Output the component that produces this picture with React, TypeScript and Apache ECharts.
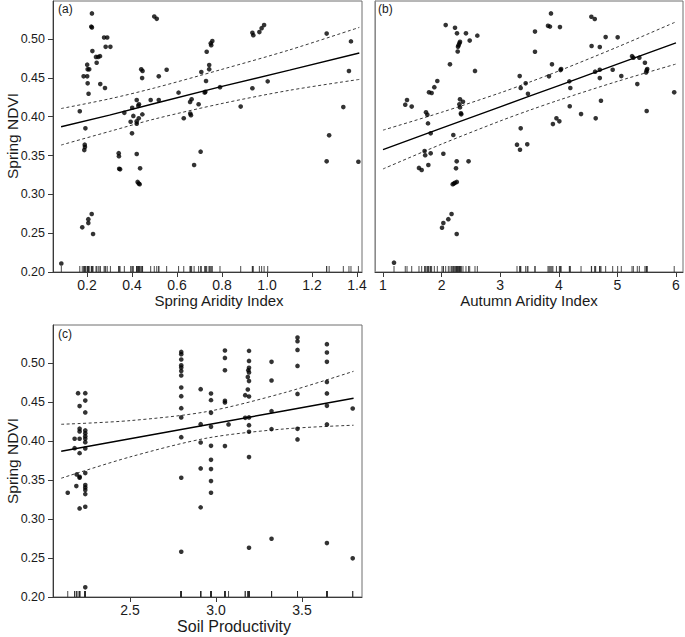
import React, { useEffect, useRef } from "react";
import * as echarts from "echarts";

// ---------- Panel (a): Spring Aridity Index vs Spring NDVI ----------
const springAridity = [
  0.222, 0.219, 0.222, 0.224, 0.276, 0.29, 0.283, 0.304, 0.24, 0.25,
  0.258, 0.243, 0.201, 0.203, 0.21, 0.185, 0.201, 0.203, 0.259, 0.28,
  0.207, 0.168, 0.193, 0.19, 0.191, 0.188, 0.499, 0.51, 0.441, 0.447,
  0.445, 0.554, 0.519, 0.607, 0.421, 0.483, 0.519, 0.431, 0.428, 0.401,
  0.366, 0.406, 0.446, 0.43, 0.394, 0.421, 0.421, 0.4, 0.421, 0.935,
  0.939, 0.966, 0.976, 0.987, 0.757, 0.75, 0.752, 0.732, 1.265, 1.373,
  0.743, 0.743, 0.708, 0.729, 1.003, 0.791, 0.935, 1.364, 0.723, 0.726,
  0.665, 0.658, 0.696, 0.883, 0.63, 0.659, 0.662, 1.339, 1.276, 0.705,
  0.341, 0.342, 0.343, 0.347, 0.436, 0.425, 0.43, 0.434, 0.676, 0.179,
  0.206, 0.206, 0.221, 0.227, 0.086, 1.265, 1.406,
];
const ndviA = [
  0.533, 0.516, 0.515, 0.4845, 0.502, 0.502, 0.49, 0.49, 0.477, 0.477,
  0.478, 0.4695, 0.467, 0.461, 0.461, 0.452, 0.452, 0.443, 0.442, 0.437,
  0.4296, 0.407, 0.385, 0.364, 0.361, 0.357, 0.529, 0.526, 0.461, 0.459,
  0.4497, 0.4605, 0.452, 0.431, 0.4215, 0.4215, 0.4215, 0.416, 0.414, 0.4115,
  0.405, 0.401, 0.403, 0.398, 0.3935, 0.394, 0.391, 0.3786, 0.352, 0.508,
  0.505, 0.509, 0.514, 0.518, 0.4975, 0.4945, 0.492, 0.4836, 0.507, 0.497,
  0.4665, 0.461, 0.4575, 0.446, 0.4455, 0.438, 0.4366, 0.4588, 0.431, 0.432,
  0.4225, 0.419, 0.416, 0.413, 0.398, 0.404, 0.402, 0.4124, 0.376, 0.355,
  0.353, 0.349, 0.333, 0.3322, 0.3335, 0.316, 0.314, 0.313, 0.3378, 0.2575,
  0.263, 0.268, 0.2747, 0.249, 0.211, 0.3425, 0.342,
];
const fitAX = [0.085, 0.3, 0.5, 0.8, 1.1, 1.41];
const fitAY = [0.387, 0.402, 0.417, 0.439, 0.46, 0.482];
const upperAY = [0.4105, 0.423, 0.437, 0.461, 0.486, 0.515];
const lowerAY = [0.3635, 0.381, 0.397, 0.417, 0.434, 0.448];

// ---------- Panel (b): Autumn Aridity Index vs Spring NDVI ----------
const autumnAridity = [
  2.07, 2.229, 2.263, 2.416, 2.61, 2.48, 2.314, 2.304, 2.29, 2.28,
  2.275, 2.143, 2.57, 1.927, 1.876, 1.785, 1.83, 1.41, 1.38, 1.49,
  2.314, 2.365, 2.304, 2.314, 2.33, 2.335, 1.734, 1.757, 1.768, 1.814,
  2.2, 3.333, 3.435, 3.474, 3.35, 3.35, 3.287, 3.338, 3.462, 1.71,
  1.72, 1.814, 2.03, 1.614, 1.66, 1.774, 2.258, 2.46, 2.246, 2.19,
  2.21, 2.23, 2.26, 2.17, 2.115, 2.03, 2.007, 2.258, 1.188, 3.867,
  3.816, 3.85, 4.02, 3.594, 4.556, 4.614, 4.8, 5.005, 4.56, 4.7,
  3.594, 3.884, 4.04, 4.03, 4.92, 4.62, 4.7, 5.25, 5.273, 5.375,
  5.47, 5.51, 5.5, 5.49, 3.833, 4.7, 5.067, 4.18, 4.197, 5.34,
  4.72, 4.187, 4.38, 4.63, 3.96, 4.01, 3.9, 5.5, 5.97,
];
const ndviB = [
  0.518, 0.5145, 0.5074, 0.5074, 0.5044, 0.498, 0.4965, 0.4945, 0.492, 0.49,
  0.484, 0.4674, 0.459, 0.446, 0.438, 0.4314, 0.4305, 0.4215, 0.4155, 0.413,
  0.4224, 0.4193, 0.416, 0.412, 0.4045, 0.403, 0.4056, 0.4025, 0.3914, 0.3786,
  0.3764, 0.4523, 0.443, 0.4296, 0.437, 0.385, 0.364, 0.3575, 0.3644, 0.3558,
  0.3503, 0.3528, 0.3523, 0.334, 0.3313, 0.3378, 0.3425, 0.3425, 0.3335, 0.313,
  0.314, 0.315, 0.316, 0.2747, 0.268, 0.263, 0.257, 0.249, 0.212, 0.533,
  0.517, 0.516, 0.5154, 0.5096, 0.5287, 0.5258, 0.5025, 0.5022, 0.491, 0.4897,
  0.4836, 0.4674, 0.4614, 0.46, 0.4604, 0.458, 0.4605, 0.478, 0.476, 0.476,
  0.4695, 0.4614, 0.4597, 0.457, 0.452, 0.4497, 0.4523, 0.4455, 0.437, 0.442,
  0.4206, 0.4134, 0.4034, 0.3979, 0.3979, 0.394, 0.3905, 0.4073, 0.4314,
];
const fitBX = [1, 2, 3, 3.5, 4, 5, 6];
const fitBY = [0.3577, 0.3852, 0.4126, 0.4264, 0.4401, 0.4676, 0.495];
const upperBY = [0.3827, 0.4057, 0.4307, 0.4445, 0.4589, 0.4897, 0.5222];
const lowerBY = [0.3327, 0.3647, 0.3945, 0.4083, 0.4213, 0.4455, 0.4678];

// ---------- Panel (c): Soil Productivity vs Spring NDVI ----------
const soilProductivity = [
  2.198,
  2.24, 2.24, 2.24, 2.24, 2.24, 2.24, 2.24, 2.24, 2.24, 2.24, 2.24, 2.24, 2.24, 2.24, 2.24, 2.24,
  2.207, 2.207, 2.207, 2.207, 2.207, 2.207, 2.207, 2.207,
  2.178, 2.178, 2.19, 2.188, 2.138,
  2.798, 2.798, 2.798, 2.798, 2.798, 2.798, 2.798, 2.798, 2.798, 2.798, 2.798, 2.798, 2.798, 2.798,
  2.911, 2.911, 2.911, 2.911, 2.911,
  2.971, 2.971, 2.971, 2.971, 2.971, 2.971, 2.971, 2.971, 2.971,
  3.052, 3.052, 3.052, 3.052, 3.052, 3.052, 3.073,
  3.192, 3.192, 3.192, 3.188, 3.192, 3.185, 3.192, 3.185, 3.17, 3.192, 3.17, 3.192, 3.192, 3.192, 3.192, 3.192,
  3.323, 3.323, 3.323, 3.323, 3.323,
  3.474, 3.474, 3.474, 3.474, 3.474, 3.474, 3.474,
  3.645, 3.645, 3.645, 3.645, 3.645, 3.645, 3.645, 3.645,
  3.795, 3.795,
];
const ndviC = [
  0.4615,
  0.4615, 0.452, 0.4368, 0.4137, 0.41, 0.4064, 0.403, 0.3987, 0.3906, 0.359, 0.3436, 0.3406, 0.3372, 0.332, 0.3158, 0.2124,
  0.445, 0.416, 0.4124, 0.403, 0.3846, 0.3542, 0.353, 0.3137,
  0.403, 0.391, 0.3573, 0.3423, 0.3337,
  0.5145, 0.5115, 0.5047, 0.4974, 0.4945, 0.4901, 0.4842, 0.4688, 0.4577, 0.4423, 0.4304, 0.4051, 0.353, 0.258,
  0.4667, 0.4218, 0.3983, 0.365, 0.315,
  0.4611, 0.4526, 0.4363, 0.4183, 0.394, 0.376, 0.3641, 0.3487, 0.3337,
  0.5163, 0.5068, 0.491, 0.4517, 0.4496, 0.3936, 0.4214,
  0.5158, 0.5029, 0.494, 0.491, 0.488, 0.4824, 0.477, 0.4663, 0.459, 0.4573, 0.4299, 0.4304, 0.4205, 0.412, 0.3795, 0.2632,
  0.5017, 0.4778, 0.4385, 0.4154, 0.2747,
  0.533, 0.5282, 0.517, 0.4965, 0.4606, 0.4158, 0.4022,
  0.5244, 0.5137, 0.5017, 0.476, 0.4612, 0.4453, 0.4214, 0.2692,
  0.4419, 0.2496,
];
const fitCX = [2.1, 2.5, 2.95, 3.4, 3.8];
const fitCY = [0.387, 0.403, 0.421, 0.439, 0.455];
const upperCY = [0.4216, 0.4263, 0.438, 0.4623, 0.4896];
const lowerCY = [0.3524, 0.3797, 0.404, 0.4157, 0.4204];

// ---------- Ticks ----------
const ndviTicks = [0.2, 0.25, 0.3, 0.35, 0.4, 0.45, 0.5];
const springTicks = [0.2, 0.4, 0.6, 0.8, 1.0, 1.2, 1.4];
const autumnTicks = [1, 2, 3, 4, 5, 6];
const soilTicks = [2.5, 3.0, 3.5];

const FONT = "'Liberation Sans', Arial, Helvetica, sans-serif";
const Y_MIN = 0.2;
const Y_MAX = 0.549;

const zip = (a: number[], b: number[]) => a.map((v, i) => [v, b[i]]);

function xAxisCfg(gridIndex: number, min: number, max: number, ticks: number[], digits: number) {
  return {
    type: "value",
    gridIndex,
    min,
    max,
    axisLine: { show: true, onZero: false, lineStyle: { color: "#3a3a3a", width: 1 } },
    axisTick: { show: true, customValues: ticks, length: 5, lineStyle: { color: "#3a3a3a" } },
    axisLabel: {
      customValues: ticks,
      formatter: (v: number) => v.toFixed(digits),
      fontFamily: FONT,
      fontSize: 14,
      color: "#1a1a1a",
      margin: 6,
    },
    splitLine: { show: false },
  };
}

function yAxisCfg(gridIndex: number, labelled: boolean) {
  return {
    type: "value",
    gridIndex,
    min: Y_MIN,
    max: Y_MAX,
    axisLine: { show: true, onZero: false, lineStyle: { color: labelled ? "#3a3a3a" : "#8a8a8a", width: 1 } },
    axisTick: { show: labelled, customValues: ndviTicks, length: 5, lineStyle: { color: "#3a3a3a" } },
    axisLabel: {
      show: labelled,
      customValues: ndviTicks,
      formatter: (v: number) => v.toFixed(2),
      fontFamily: FONT,
      fontSize: 12.5,
      color: "#1a1a1a",
      margin: 8,
    },
    splitLine: { show: false },
  };
}

function panelSeries(idx: number, xs: number[], ys: number[], fx: number[], fy: number[], up: number[], lo: number[]) {
  const common = { xAxisIndex: idx, yAxisIndex: idx };
  return [
    {
      ...common,
      type: "scatter",
      name: "rug",
      data: xs.map((v) => [v, Y_MIN]),
      symbol: "rect",
      symbolSize: [1, 6],
      symbolOffset: [0, -3],
      itemStyle: { color: "#2a2a2a", opacity: 0.85 },
      silent: true,
      z: 2,
    },
    {
      ...common,
      type: "line",
      data: zip(fx, up),
      showSymbol: false,
      smooth: 0.3,
      lineStyle: { color: "#3a3a3a", width: 1, type: [3, 2.5] },
      silent: true,
      z: 3,
    },
    {
      ...common,
      type: "line",
      data: zip(fx, lo),
      showSymbol: false,
      smooth: 0.3,
      lineStyle: { color: "#3a3a3a", width: 1, type: [3, 2.5] },
      silent: true,
      z: 3,
    },
    {
      ...common,
      type: "line",
      data: zip(fx, fy),
      showSymbol: false,
      lineStyle: { color: "#000", width: 1.4 },
      silent: true,
      z: 4,
    },
    {
      ...common,
      type: "scatter",
      data: zip(xs, ys),
      symbol: "circle",
      symbolSize: 4.6,
      itemStyle: { color: "#000" },
      z: 5,
    },
  ];
}

export default function App() {
  const ref = useRef<HTMLDivElement>(null);
  useEffect(() => {
    document.body.style.margin = "0";
    const chart = echarts.init(ref.current as HTMLDivElement, null, { renderer: "svg" });
    const gridStyle = { show: true, borderColor: "#6e6e6e", borderWidth: 1, backgroundColor: "#fff" };
    const titleStyle = { fontFamily: FONT, fontSize: 15, fill: "#1a1a1a" };
    chart.setOption({
      animation: false,
      backgroundColor: "#fff",
      grid: [
        { ...gridStyle, left: 53, top: 1, width: 309, height: 271 },
        { ...gridStyle, left: 375, top: 1, width: 308, height: 271 },
        { ...gridStyle, left: 53, top: 325, width: 309, height: 272 },
      ],
      xAxis: [
        xAxisCfg(0, 0.049, 1.422, springTicks, 1),
        xAxisCfg(1, 0.8635, 6.12, autumnTicks, 0),
        xAxisCfg(2, 2.0523, 3.849, soilTicks, 1),
      ],
      yAxis: [yAxisCfg(0, true), yAxisCfg(1, false), yAxisCfg(2, true)],
      series: [
        ...panelSeries(0, springAridity, ndviA, fitAX, fitAY, upperAY, lowerAY),
        ...panelSeries(1, autumnAridity, ndviB, fitBX, fitBY, upperBY, lowerBY),
        ...panelSeries(2, soilProductivity, ndviC, fitCX, fitCY, upperCY, lowerCY),
      ],
      graphic: [
        { type: "text", left: 58, top: 3, style: { text: "(a)", fontFamily: FONT, fontSize: 12, fill: "#1a1a1a" } },
        { type: "text", left: 378, top: 3, style: { text: "(b)", fontFamily: FONT, fontSize: 12, fill: "#1a1a1a" } },
        { type: "text", left: 58, top: 328, style: { text: "(c)", fontFamily: FONT, fontSize: 12, fill: "#1a1a1a" } },
        {
          type: "text", x: 12, y: 136, rotation: Math.PI / 2,
          style: { ...titleStyle, fontSize: 15.5, text: "Spring NDVI", align: "center", verticalAlign: "middle" },
        },
        {
          type: "text", x: 12, y: 461, rotation: Math.PI / 2,
          style: { ...titleStyle, fontSize: 15.5, text: "Spring NDVI", align: "center", verticalAlign: "middle" },
        },
        {
          type: "text", x: 219, y: 300,
          style: { ...titleStyle, text: "Spring Aridity Index", align: "center", verticalAlign: "middle" },
        },
        {
          type: "text", x: 529, y: 300,
          style: { ...titleStyle, text: "Autumn Aridity Index", align: "center", verticalAlign: "middle" },
        },
        {
          type: "text", x: 234, y: 626,
          style: { ...titleStyle, fontSize: 16, text: "Soil Productivity", align: "center", verticalAlign: "middle" },
        },
      ],
    });
    return () => chart.dispose();
  }, []);
  return <div ref={ref} style={{ width: 685, height: 637 }} />;
}
